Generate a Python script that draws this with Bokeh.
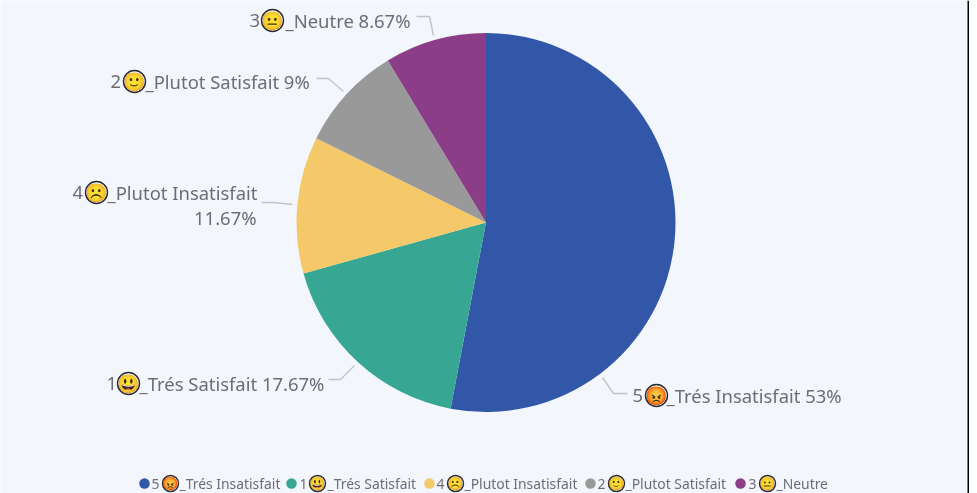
import numpy as np
from bokeh.plotting import figure
from bokeh.models import Span
from bokeh.core.properties import value
from bokeh.embed import file_html
from bokeh.resources import INLINE

# ---- data ----
prefixes = ["5", "1", "4", "2", "3"]
emojis = ["\U0001F621", "\U0001F603", "\u2639\uFE0F", "\U0001F642", "\U0001F610"]
names = ["_Trés Insatisfait", "_Trés Satisfait", "_Plutot Insatisfait", "_Plutot Satisfait", "_Neutre"]
shares = [53, 17.67, 11.67, 9, 8.67]
share_labels = ["53%", "17.67%", "11.67%", "9%", "8.67%"]
colors = ["#3257A8", "#37A794", "#F5C869", "#999999", "#8B3D88"]

# ---- style / layout ----
W, H = 969, 493
BG = "#F3F6FC"
TXT = "#6B6E72"
FONT = "Noto Sans"
EMOJI = "Noto Color Emoji"
cx, cy, R = 485.5, 222, 189.5

p = figure(width=W, height=H, x_range=(0, W), y_range=(H, 0), output_backend="svg",
           toolbar_location=None, min_border=0, background_fill_color=BG,
           border_fill_color=BG, outline_line_color=None)
p.axis.visible = False
p.grid.visible = False
p.styles = {"position": "fixed", "left": "0", "top": "0"}
p.add_layout(Span(location=968, dimension="height", line_color="#000000", line_width=2))

s = np.array(shares, dtype=float)
edges = np.concatenate([[0], np.cumsum(s)]) / s.sum() * 2 * np.pi
p.wedge(x=cx, y=cy, radius=R, start_angle=np.pi / 2 - edges[:-1], end_angle=np.pi / 2 - edges[1:],
        direction="clock", fill_color=colors, line_color=None)

# leader lines
leaders = [
    ([602, 613, 627], [377, 393, 393]),
    ([354, 340, 328], [365, 379, 379]),
    ([292, 273, 261], [204, 202, 202]),
    ([343, 328, 316], [91, 78, 78]),
    ([433, 429, 416], [35, 16, 16]),
]
p.multi_line(xs=[l[0] for l in leaders], ys=[l[1] for l in leaders], line_color="#C4C4C4", line_width=1.4)


def txt(x, y, t, size, color=TXT, align="left", font=FONT):
    p.text(x=[x], y=[y], text=[t], text_font=value(font), text_font_size=f"{size}px",
           text_color=color, text_align=align, text_baseline="middle")


def piece(i, dx, fx, tx, y, face, size, suffix):
    txt(dx, y, prefixes[i], size)
    txt(fx, y, emojis[i], face * 0.82, color="#222222", align="center", font=EMOJI)
    p.scatter(x=[fx], y=[y], size=face, marker="circle", fill_color=None, line_color="#2A2A2A", line_width=1.4)
    txt(tx, y, names[i] + suffix, size)


# data labels
L = 18.45
piece(0, 632, 656, 666, 395, 22, L, " " + share_labels[0])
piece(1, 106, 128, 139, 383, 22, L, " " + share_labels[1])
piece(2, 72, 96, 107, 192, 22, L, "")
txt(256, 217, share_labels[2], L, align="right")
piece(3, 110, 134, 145, 81, 22, L, " " + share_labels[3])
piece(4, 249, 272, 285, 20, 22, L, " " + share_labels[4])

# legend
leg_dots = [144, 291, 429, 590, 740]
leg_digit = [151, 299, 436, 597, 748]
leg_face = [170, 317, 455, 616, 767]
leg_text = [179, 327, 464, 625, 776]
LY = 483
for i in range(5):
    p.scatter(x=[leg_dots[i]], y=[LY], size=10.5, marker="circle", fill_color=colors[i], line_color=None)
    piece(i, leg_digit[i], leg_face[i], leg_text[i], LY, 16, 13.9, "")

open("out.html", "w").write(file_html(p, INLINE))
